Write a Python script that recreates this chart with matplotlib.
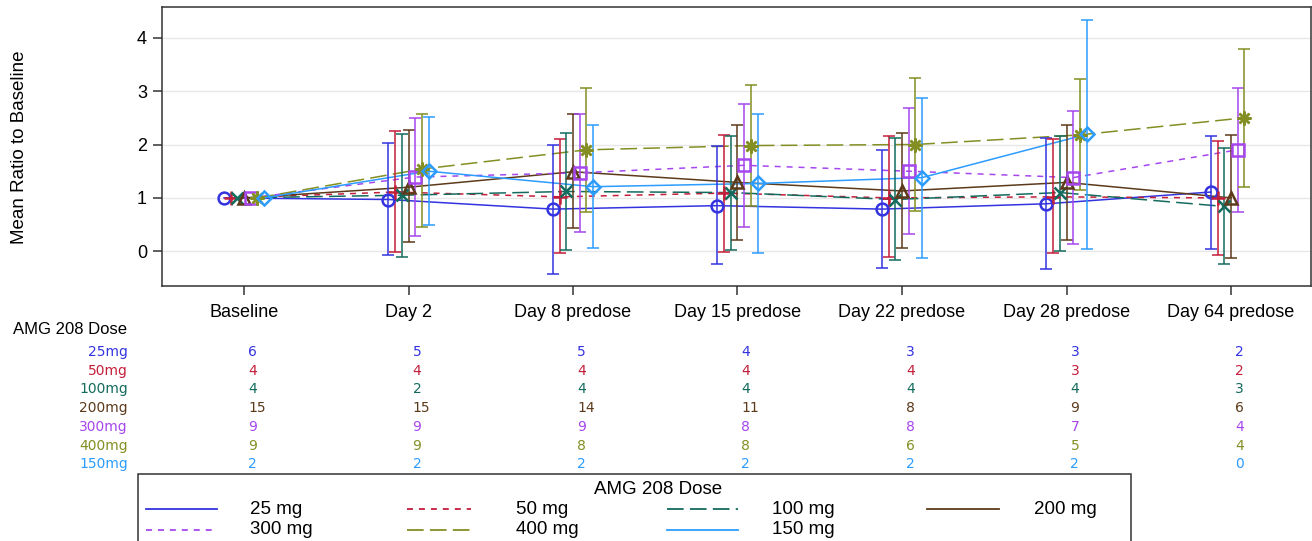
import numpy as np
import matplotlib
matplotlib.use("Agg")
import matplotlib.pyplot as plt
from matplotlib.lines import Line2D
from matplotlib.patches import Rectangle
import matplotlib.transforms as mtransforms

plt.rcParams["lines.scale_dashes"] = False

W, H = 1312, 541

visits = ["Baseline", "Day 2", "Day 8 predose", "Day 15 predose",
          "Day 22 predose", "Day 28 predose", "Day 64 predose"]

doses = ["25 mg", "50 mg", "100 mg", "200 mg", "300 mg", "400 mg", "150 mg"]
row_labels = ["25mg", "50mg", "100mg", "200mg", "300mg", "400mg", "150mg"]

nan = np.nan
mean_25 = [1.0, 0.97, 0.79, 0.855, 0.79, 0.89, 1.11]
lo_25 = [nan, -0.07, -0.42, -0.24, -0.31, -0.34, 0.05]
hi_25 = [nan, 2.03, 2.0, 1.97, 1.89, 2.12, 2.16]

mean_50 = [1.0, 1.11, 1.02, 1.09, 1.0, 1.02, 1.0]
lo_50 = [nan, -0.02, -0.04, -0.01, -0.11, -0.03, -0.07]
hi_50 = [nan, 2.25, 2.1, 2.17, 2.15, 2.1, 2.07]

mean_100 = [1.0, 1.05, 1.12, 1.1, 0.97, 1.1, 0.84]
lo_100 = [nan, -0.11, 0.02, 0.02, -0.16, 0.01, -0.24]
hi_100 = [nan, 2.2, 2.21, 2.16, 2.12, 2.15, 1.93]

mean_200 = [1.0, 1.2, 1.49, 1.29, 1.13, 1.29, 1.0]
lo_200 = [nan, 0.17, 0.44, 0.22, 0.06, 0.22, -0.12]
hi_200 = [nan, 2.28, 2.57, 2.37, 2.22, 2.36, 2.17]

mean_300 = [1.0, 1.39, 1.47, 1.61, 1.5, 1.38, 1.9]
lo_300 = [nan, 0.29, 0.37, 0.46, 0.32, 0.13, 0.74]
hi_300 = [nan, 2.5, 2.57, 2.75, 2.68, 2.62, 3.05]

mean_400 = [1.0, 1.54, 1.9, 1.98, 2.0, 2.18, 2.5]
lo_400 = [nan, 0.46, 0.74, 0.84, 0.75, 1.15, 1.2]
hi_400 = [nan, 2.58, 3.05, 3.11, 3.25, 3.22, 3.78]

mean_150 = [1.0, 1.5, 1.21, 1.27, 1.38, 2.19, nan]
lo_150 = [nan, 0.49, 0.06, -0.04, -0.12, 0.05, nan]
hi_150 = [nan, 2.51, 2.36, 2.58, 2.87, 4.33, nan]

n_25 = [6, 5, 5, 4, 3, 3, 2]
n_50 = [4, 4, 4, 4, 4, 3, 2]
n_100 = [4, 2, 4, 4, 4, 4, 3]
n_200 = [15, 15, 14, 11, 8, 9, 6]
n_300 = [9, 9, 9, 8, 8, 7, 4]
n_400 = [9, 9, 8, 8, 6, 5, 4]
n_150 = [2, 2, 2, 2, 2, 2, 0]

means = [mean_25, mean_50, mean_100, mean_200, mean_300, mean_400, mean_150]
lows = [lo_25, lo_50, lo_100, lo_200, lo_300, lo_400, lo_150]
highs = [hi_25, hi_50, hi_100, hi_200, hi_300, hi_400, hi_150]
counts = [n_25, n_50, n_100, n_200, n_300, n_400, n_150]

colors = ["#3333E0", "#C41E3A", "#136B5E", "#5C3A1A", "#A646EE", "#838F22", "#2C9CFF"]
short = (0, (4.3, 4.3))
long_ = (0, (12, 4.5))
styles = ["-", short, long_, "-", short, long_, "-"]
markers = ["o", "+", "x", "^", "s", (8, 2, 0), "D"]
msizes = [8.5, 10, 9, 8.5, 8, 10, 7.5]


def px(x, y):
    return x / W, 1 - y / H


fig = plt.figure(figsize=(W / 100, H / 100), dpi=100)
ax = fig.add_axes([162 / W, 1 - 286 / H, (1311 - 162) / W, (286 - 7) / H])

xbase = np.arange(len(visits))
step = 6.67 / 164.5
for i in range(len(doses)):
    x = xbase + (i - 3) * step
    m = np.array(means[i], dtype=float)
    lo = np.array(lows[i], dtype=float)
    hi = np.array(highs[i], dtype=float)
    ok = ~np.isnan(m)
    ax.plot(x[ok], m[ok], color=colors[i], ls=styles[i], lw=1.1, zorder=2)
    e = ~np.isnan(lo)
    ax.errorbar(x[e], m[e], yerr=[m[e] - lo[e], hi[e] - m[e]], fmt="none",
                ecolor=colors[i], elinewidth=1.1, capsize=4.6, capthick=1.1, zorder=3)
    ax.plot(x[ok], m[ok], ls="none", marker=markers[i], ms=msizes[i],
            mfc="none", mec=colors[i], mew=1.8, zorder=4)

ax.set_xlim((162 - 244) / 164.5, (1311 - 244) / 164.5)
ax.set_ylim(-(286 - 251.3) / 53.4, (251.3 - 7) / 53.4)
ax.set_xticks(xbase)
ax.set_xticklabels(visits)
ax.set_yticks([0, 1, 2, 3, 4])
ax.grid(axis="y", color="#E8E8E8", lw=1.0, zorder=0)
ax.set_axisbelow(True)
for s in ax.spines.values():
    s.set_color("#333333")
    s.set_linewidth(1.1)
ax.tick_params(axis="both", length=6.5, width=1.1, color="#333333",
               labelsize=13, pad=4.3)
ax.tick_params(axis="x", pad=6.5)
for lab in ax.get_xticklabels() + ax.get_yticklabels():
    lab.set_family("Liberation Sans")

fig.text(*px(20, 147), "Mean Ratio to Baseline", rotation=90, ha="center",
         va="center", fontsize=13.5, family="Liberation Sans")

# subject count table
fig.text(*px(12.7, 329), "AMG 208 Dose", ha="left", va="center",
         fontsize=12, family="Liberation Sans")
tr = mtransforms.blended_transform_factory(ax.transData, fig.transFigure)
row_y = [351.7, 370.7, 389.3, 408.3, 426.7, 445.7, 464.2]
for i, lab in enumerate(row_labels):
    fig.text(*px(128, row_y[i]), lab, ha="right", va="center",
             fontsize=10, family="DejaVu Sans", color=colors[i])
    for j, n in enumerate(counts[i]):
        ax.text(xbase[j] + 4 / 164.5, 1 - row_y[i] / H, str(n), transform=tr,
                ha="left", va="center", fontsize=10, family="DejaVu Sans",
                color=colors[i], clip_on=False)

# legend
fig.add_artist(Rectangle(px(138, 560), (1131 - 138) / W, (560 - 474) / H,
                         transform=fig.transFigure, fill=False,
                         edgecolor="#333333", lw=1.1))
fig.text(*px(658, 490), "AMG 208 Dose", ha="center", va="center",
         fontsize=13.5, family="Liberation Sans")
leg_cols = [(146, 217, 250), (407, 471, 516), (667, 738, 772), (927, 999, 1034)]
leg_rows = [509, 530]
for i, lab in enumerate(doses):
    r, c = divmod(i, 4)
    x0, x1, xt = leg_cols[c]
    y = leg_rows[r]
    fig.add_artist(Line2D([x0 / W, x1 / W], [1 - y / H, 1 - y / H],
                          transform=fig.transFigure, color=colors[i],
                          ls=styles[i], lw=1.3))
    fig.text(*px(xt, y), lab, ha="left", va="center", fontsize=13.5,
             family="Liberation Sans")

fig.savefig("out.png", dpi=100)
